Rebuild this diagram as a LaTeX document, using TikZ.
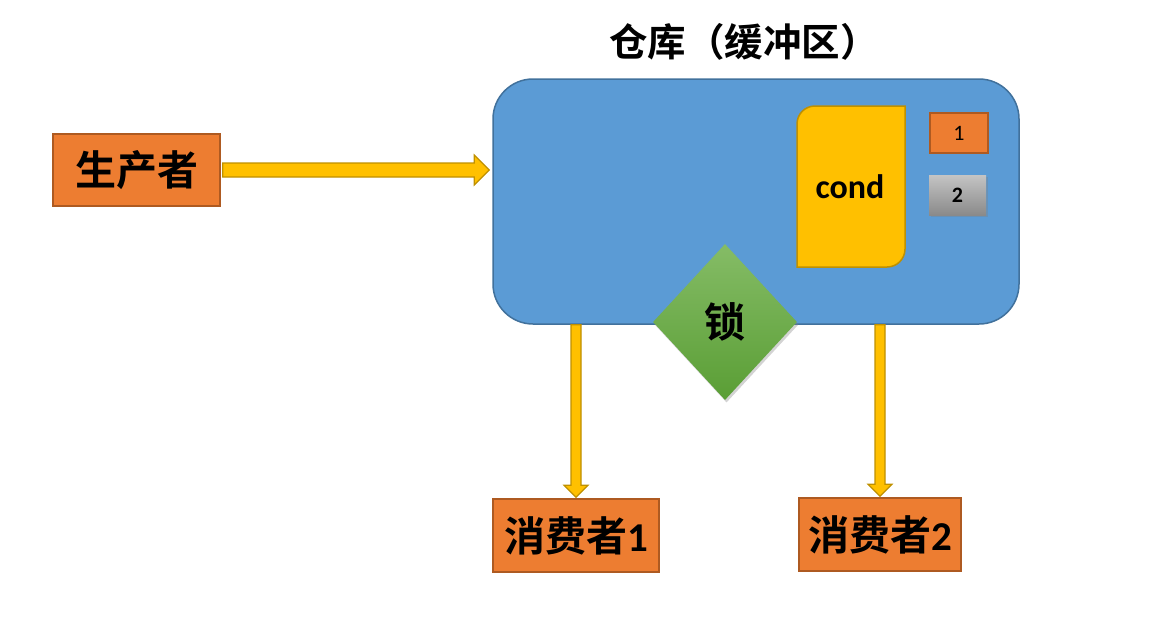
\documentclass[tikz,border=0pt]{standalone}
\usepackage{fontspec}
\usetikzlibrary{shapes.geometric,shadows,calc}
\newfontfamily\cjkb{Noto Sans CJK SC Bold}
\newfontfamily\carb{Carlito}[BoldFont={Carlito Bold}]
\definecolor{orfill}{HTML}{ED7D31}
\definecolor{ordraw}{HTML}{AE5A21}
\definecolor{yefill}{HTML}{FFC000}
\definecolor{yedraw}{HTML}{BF9000}
\definecolor{blfill}{HTML}{5B9BD5}
\definecolor{bldraw}{HTML}{41719C}
\definecolor{grtop}{HTML}{85BC66}
\definecolor{grbot}{HTML}{5A9E35}
\definecolor{gytop}{HTML}{C4C4C4}
\definecolor{gybot}{HTML}{8A8A8A}
\newcommand\harrowdraw[2]{%
  \draw[yarrow] ($(#1)+(0,-7)$) -- ($(#2)+(-15,-7)$) -- ($(#2)+(-15,-15)$) -- (#2)
    -- ($(#2)+(-15,15)$) -- ($(#2)+(-15,7)$) -- ($(#1)+(0,7)$) -- cycle;}
\newcommand\varrowdraw[2]{%
  \draw[yarrow] ($(#1)+(-5,0)$) -- ($(#2)+(-5,-12)$) -- ($(#2)+(-12,-12)$) -- (#2)
    -- ($(#2)+(12,-12)$) -- ($(#2)+(5,-12)$) -- ($(#1)+(5,0)$) -- cycle;}
\begin{document}
\begin{tikzpicture}[x=1pt,y=-1pt,
  obox/.style={draw=ordraw,fill=orfill,line width=1.5pt,inner sep=0pt},
  yarrow/.style={draw=yedraw,fill=yefill,line width=1.2pt,line join=miter},
  bigtxt/.style={font=\cjkb\fontsize{41}{44}\selectfont,text=black}]
\useasboundingbox (0,0) rectangle (1161,625);
% buffer
\node[draw=bldraw,fill=blfill,line width=1.5pt,rounded corners=40,
  minimum width=526,minimum height=245,inner sep=0pt] (buf) at (756,201.5) {};
\node[font=\cjkb\fontsize{38.5}{42}\selectfont] (title) at (744,42) {仓库（缓冲区）};
% cond
\draw[draw=yedraw,fill=yefill,line width=1.5pt]
  (815,106) -- (905,106) -- (905,249) .. controls (905,259) and (897,267) .. (887,267)
  -- (797,267) -- (797,124) .. controls (797,114) and (805,106) .. (815,106) -- cycle;
\node[font=\carb\bfseries\fontsize{34}{36}\selectfont] (cond) at (850,187) {cond};
% small boxes
\node[obox,minimum width=58,minimum height=40] (b1) at (959,133) {\carb\fontsize{22}{24}\selectfont 1};
\node[top color=gytop,bottom color=gybot,minimum width=57,minimum height=40,inner sep=0pt,
  drop shadow={shadow xshift=1.5pt,shadow yshift=-2pt,opacity=0.35}] (b2) at (957.5,195)
  {\carb\bfseries\fontsize{22}{24}\selectfont 2};
% lock
\node[diamond,aspect=0.92,minimum width=144,minimum height=156,inner sep=0pt,
  top color=grtop,bottom color=grbot,draw=none,
  drop shadow={shadow xshift=1.5pt,shadow yshift=-2.5pt,opacity=0.35},
  bigtxt] (lock) at (725,322) {锁};
% producer / consumers
\node[obox,minimum width=167,minimum height=72,bigtxt] (prod) at (136.5,170) {生产者};
\node[obox,minimum width=166,minimum height=73,bigtxt] (c1) at (576,535.5) {消费者{\carb\bfseries 1}};
\node[obox,minimum width=162,minimum height=73,bigtxt] (c2) at (880,534.5) {消费者{\carb\bfseries 2}};
% arrows
\coordinate (a1s) at ($(prod.east)+(2,0)$);
\coordinate (a1e) at ($(buf.west |- prod.east)+(-3,0)$);
\harrowdraw{a1s}{a1e}
\coordinate (a2s) at (c1.north |- buf.south);
\coordinate (a2e) at ($(c1.north)+(0,-1)$);
\varrowdraw{a2s}{a2e}
\coordinate (a3s) at (c2.north |- buf.south);
\coordinate (a3e) at ($(c2.north)+(0,-1)$);
\varrowdraw{a3s}{a3e}
\end{tikzpicture}
\end{document}
